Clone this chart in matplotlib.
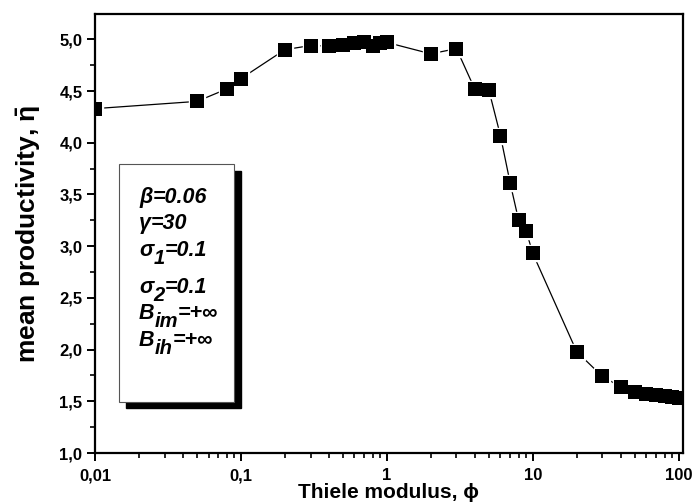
import matplotlib
matplotlib.use("Agg")
import matplotlib.pyplot as plt
from matplotlib.ticker import FixedLocator, FuncFormatter, LogLocator, MultipleLocator
from matplotlib.patches import Rectangle
from matplotlib.text import Annotation

plt.rcParams['font.family'] = ['Liberation Sans', 'DejaVu Sans']
plt.rcParams['font.weight'] = 'bold'
plt.rcParams['mathtext.fontset'] = 'custom'
plt.rcParams['mathtext.rm'] = 'Liberation Sans:bold'
plt.rcParams['mathtext.it'] = 'Liberation Sans:italic:bold'
plt.rcParams['mathtext.bf'] = 'Liberation Sans:bold'

# data
thiele = [0.01, 0.05, 0.08, 0.1, 0.2, 0.3, 0.4, 0.5, 0.6, 0.7, 0.8, 0.9, 1.0,
          2, 3, 4, 5, 6, 7, 8, 9, 10, 20, 30, 40, 50, 60, 70, 80, 90, 100]
productivity = [4.33, 4.40, 4.52, 4.62, 4.90, 4.94, 4.935, 4.95, 4.96, 4.97, 4.94, 4.96, 4.97,
                4.86, 4.91, 4.52, 4.51, 4.07, 3.61, 3.25, 3.15, 2.93, 1.98, 1.74, 1.64,
                1.59, 1.575, 1.56, 1.55, 1.54, 1.53]
x_ticks = [0.01, 0.1, 1, 10, 100]
x_tick_labels = ["0,01", "0,1", "1", "10", "100"]
y_ticks = [1.0, 1.5, 2.0, 2.5, 3.0, 3.5, 4.0, 4.5, 5.0]
# each parameter line: (base, subscript, rest)
param_lines = [("β", "", "=0.06"), ("γ", "", "=30"), ("σ", "1", "=0.1"),
               ("σ", "2", "=0.1"), ("B", "im", "=+∞"), ("B", "ih", "=+∞")]

W, H = 693, 504
fig = plt.figure(figsize=(W / 100, H / 100), dpi=100)
ax = fig.add_axes([95 / W, 1 - 453 / H, (682.7 - 95) / W, (453 - 14) / H])

ax.plot(thiele, productivity, color='black', lw=0.9, zorder=1)
ax.plot(thiele, productivity, ls='none', marker='s', ms=12, mfc='white', mec='white', zorder=2, clip_on=False)
ax.plot(thiele, productivity, ls='none', marker='s', ms=10, mfc='black', mec='black', mew=0, zorder=3)

ax.set_xscale('log')
ax.set_xlim(0.01, 106.5)
ax.set_ylim(1.0, 5.245)

ax.xaxis.set_major_locator(FixedLocator(x_ticks))
ax.xaxis.set_major_formatter(FuncFormatter(lambda v, p: x_tick_labels[x_ticks.index(v)] if v in x_ticks else ""))
ax.xaxis.set_minor_locator(LogLocator(base=10, subs=range(2, 10)))
ax.xaxis.set_minor_formatter(FuncFormatter(lambda v, p: ""))
ax.yaxis.set_major_locator(FixedLocator(y_ticks))
ax.yaxis.set_major_formatter(FuncFormatter(lambda v, p: f"{v:.1f}".replace('.', ',')))
ax.yaxis.set_minor_locator(MultipleLocator(0.25))

ax.tick_params(which='major', direction='out', length=6, width=1.4, labelsize=12, pad=3)
ax.tick_params(axis='x', which='major', pad=5)
ax.tick_params(which='minor', direction='out', length=3.5, width=1.2)
ax.tick_params(top=False, right=False, which='both')
for lab in ax.get_xticklabels() + ax.get_yticklabels():
    lab.set_fontweight('bold')
for s in ax.spines.values():
    s.set_linewidth(1.6)

ax.set_xlabel("Thiele modulus, ϕ", fontsize=15, fontweight='bold', labelpad=0)
ax.set_ylabel(r"mean productivity, $\bar{\mathrm{\eta}}$", fontsize=19, fontweight='bold', labelpad=12)

# parameter box with shadow
bx0, bx1, by0, by1 = 119, 234.3, 164.3, 401.7
off = 6.5
fig.patches.append(Rectangle(((bx0 + off) / W, 1 - (by1 + off) / H), (bx1 - bx0) / W, (by1 - by0) / H,
                             transform=fig.transFigure, facecolor='black', edgecolor='black', zorder=5))
fig.patches.append(Rectangle((bx0 / W, 1 - by1 / H), (bx1 - bx0) / W, (by1 - by0) / H,
                             transform=fig.transFigure, facecolor='white', edgecolor='#555555', lw=0.8, zorder=6))
baselines = [203, 229, 256, 293, 319, 346]
tstyle = dict(fontweight='bold', fontstyle='italic', zorder=7)
for (base, sub, rest), yb in zip(param_lines, baselines):
    t = fig.text(139 / W, 1 - yb / H, base, fontsize=15.5, va='baseline', ha='left', **tstyle)
    prev = t
    dy = 0
    if sub:
        s = Annotation(sub, xy=(1, 0), xycoords=t, xytext=(0, -5), textcoords='offset points',
                       fontsize=14.5, va='bottom', ha='left', annotation_clip=False, **tstyle)
        fig.add_artist(s)
        prev = s
        dy = 5
    r = Annotation(rest, xy=(1, 0), xycoords=prev, xytext=(0, dy), textcoords='offset points',
                   fontsize=15.5, va='bottom', ha='left', annotation_clip=False, **tstyle)
    fig.add_artist(r)

fig.savefig("out.png", dpi=100)
